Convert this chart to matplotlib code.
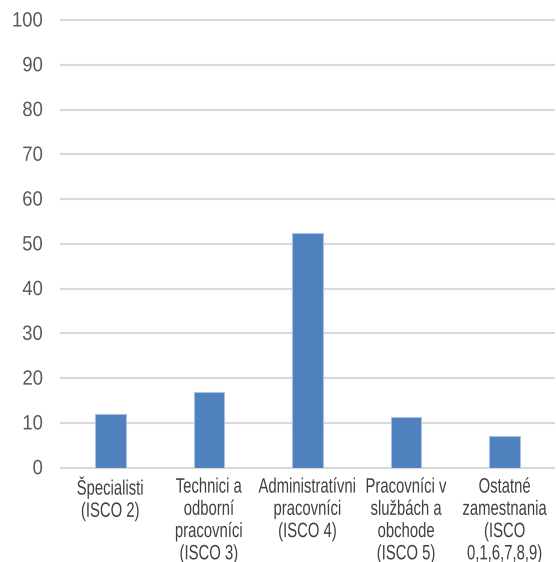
import matplotlib
matplotlib.use("Agg")
import matplotlib.pyplot as plt
from matplotlib.patheffects import AbstractPathEffect
from matplotlib.transforms import Affine2D

categories = [
    "Špecialisti\n(ISCO 2)",
    "Technici a\nodborní\npracovníci\n(ISCO 3)",
    "Administratívni\npracovníci\n(ISCO 4)",
    "Pracovníci v\nslužbách a\nobchode\n(ISCO 5)",
    "Ostatné\nzamestnania\n(ISCO\n0,1,6,7,8,9)",
]
values = [12.1, 16.8, 52.5, 11.3, 7.0]
yticks = [0, 10, 20, 30, 40, 50, 60, 70, 80, 90, 100]


class Stretch(AbstractPathEffect):
    """Scale glyphs about their baseline origin (text stays a Text object)."""
    def __init__(self, sx=1.0, sy=1.0):
        super().__init__()
        self.sx, self.sy = sx, sy

    def draw_path(self, renderer, gc, tpath, affine, rgbFace=None):
        renderer.draw_path(gc, tpath, Affine2D().scale(self.sx, self.sy) + affine, rgbFace)


plt.rcParams["font.family"] = ["Liberation Sans", "DejaVu Sans"]

fig = plt.figure(figsize=(5.56, 5.62), dpi=100)
ax = fig.add_axes([61/556, 1-467.7/562, (554-61)/556, (467.7-20)/562])

x = range(len(categories))
ax.bar(x, values, width=0.31, color="#4F81BD", edgecolor="#A9C2E3", linewidth=0.8, zorder=3)

ax.set_ylim(0, 100)
ax.set_xlim(-0.5, len(categories)-0.5)
ax.set_yticks(yticks)
ax.set_yticklabels([str(v) for v in yticks], fontsize=13.3, color="#595959")
ax.set_xticks(list(x))
ax.set_xticklabels(categories, fontsize=10.7, color="#404040", linespacing=1.75)
ax.tick_params(axis="both", length=0)
ax.tick_params(axis="y", pad=13)
ax.tick_params(axis="x", pad=10)

for t in ax.get_yticklabels():
    t.set_path_effects([Stretch(1.0, 1.12)])
for t in ax.get_xticklabels():
    t.set_path_effects([Stretch(1.0, 1.4)])

ax.yaxis.grid(True, color="#D9D9D9", linewidth=1.5, zorder=0)
for gl in ax.get_ygridlines():
    gl.set_clip_on(False)
for s in ax.spines.values():
    s.set_visible(False)

fig.savefig("out.png", dpi=100)
